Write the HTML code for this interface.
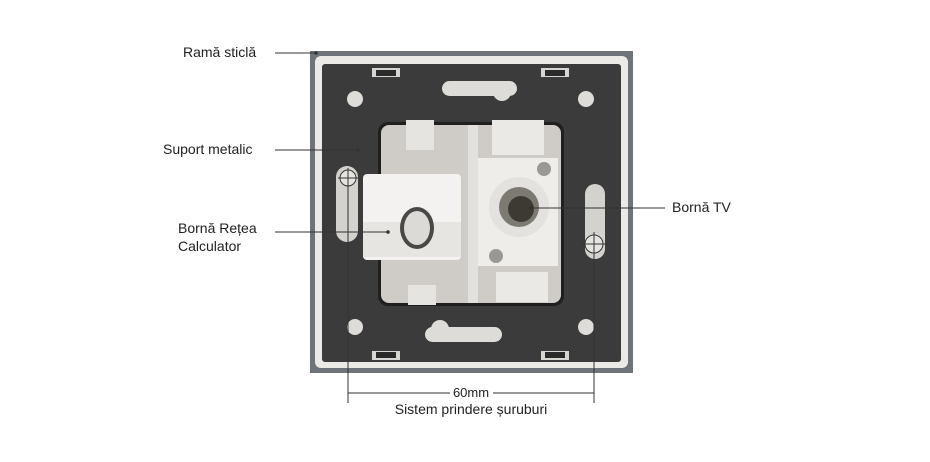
<!DOCTYPE html>
<html><head><meta charset="utf-8"><style>
html,body{margin:0;padding:0;background:#fff;}
svg{display:block;}
text{font-family:"Liberation Sans",sans-serif;fill:#222;}
</style></head><body>
<svg width="930" height="462" viewBox="0 0 930 462">
<!-- frame -->
<rect x="310" y="51" width="323" height="322" fill="#6f737a"/>
<rect x="315" y="56" width="313" height="312" rx="6" fill="#eceae6"/>
<rect x="322" y="64" width="299" height="298" rx="3" fill="#3b3b3c"/>
<!-- slots top/bottom -->
<rect x="372" y="68" width="28" height="9" fill="#d8d6d2"/><rect x="541" y="68" width="28" height="9" fill="#d8d6d2"/>
<rect x="372" y="351" width="28" height="9" fill="#d8d6d2"/><rect x="541" y="351" width="28" height="9" fill="#d8d6d2"/>
<rect x="376" y="70" width="20" height="6" fill="#2a2a2a"/><rect x="545" y="70" width="20" height="6" fill="#2a2a2a"/>
<rect x="376" y="352" width="20" height="6" fill="#2a2a2a"/><rect x="545" y="352" width="20" height="6" fill="#2a2a2a"/>
<!-- keyholes -->
<path d="M450 82 Q445 92 455 96 L495 96 Q505 104 510 96 Q515 84 500 82 Z" fill="#dedcd8"/>
<rect x="442" y="81" width="75" height="15" rx="7.5" fill="#dedcd8"/>
<rect x="425" y="327" width="77" height="15" rx="7.5" fill="#dedcd8"/>
<circle cx="440" cy="329" r="9" fill="#dedcd8"/>
<circle cx="502" cy="92" r="9" fill="#dedcd8"/>
<!-- holes -->
<circle cx="355" cy="99" r="8" fill="#dedcd8"/><circle cx="586" cy="99" r="8" fill="#dedcd8"/>
<circle cx="355" cy="327" r="8" fill="#dedcd8"/><circle cx="586" cy="327" r="8" fill="#dedcd8"/>
<!-- side slots -->
<rect x="336" y="166" width="22" height="76" rx="11" fill="#d4d2ce"/>
<rect x="585" y="184" width="20" height="75" rx="10" fill="#d4d2ce"/>
<!-- cavity -->
<rect x="378" y="122" width="186" height="184" rx="10" fill="#1f1f1f"/>
<rect x="381" y="125" width="180" height="178" rx="8" fill="#cfccc7"/>
<rect x="468" y="125" width="10" height="178" fill="#e3e1dd"/>
<rect x="478" y="158" width="80" height="108" fill="#efedea"/>
<rect x="492" y="120" width="52" height="35" fill="#ebe9e6"/>
<rect x="496" y="272" width="52" height="30" fill="#ebe9e6"/>
<rect x="406" y="120" width="28" height="30" fill="#e6e4e0"/>
<rect x="408" y="285" width="28" height="20" fill="#e6e4e0"/>
<!-- RJ45 module -->
<rect x="363" y="174" width="98" height="86" rx="4" fill="#f3f2f0"/>
<rect x="363" y="222" width="98" height="35" fill="#e6e5e2"/>
<ellipse cx="417" cy="228" rx="17" ry="21" fill="#4a4846"/>
<ellipse cx="417" cy="228" rx="13" ry="17" fill="#dcdad6"/>
<!-- coax -->
<circle cx="519" cy="207" r="30" fill="#e4e2de"/>
<circle cx="519" cy="207" r="20" fill="#7d7a72"/>
<circle cx="521" cy="209" r="13" fill="#3d3a34"/>
<circle cx="544" cy="169" r="7" fill="#9a9892"/>
<circle cx="496" cy="256" r="7" fill="#9a9892"/>
<!-- screw crosshairs -->
<g stroke="#333" stroke-width="1" fill="#e6e4e0">
<circle cx="348" cy="178" r="8"/><circle cx="594" cy="244" r="9"/>
</g>
<g stroke="#333" stroke-width="1">
<line x1="348" y1="168" x2="348" y2="403"/><line x1="338" y1="178" x2="358" y2="178"/>
<line x1="594" y1="232" x2="594" y2="403"/><line x1="582" y1="244" x2="606" y2="244"/>
<line x1="275" y1="53" x2="316" y2="53"/>
<line x1="275" y1="150" x2="358" y2="150"/>
<line x1="275" y1="232" x2="388" y2="232"/>
<line x1="527" y1="208" x2="665" y2="208"/>
<line x1="348" y1="393" x2="450" y2="393"/><line x1="493" y1="393" x2="594" y2="393"/>
</g>
<circle cx="316" cy="53" r="1.8" fill="#333"/><circle cx="358" cy="150" r="1.8" fill="#333"/><circle cx="388" cy="232" r="1.8" fill="#333"/><circle cx="531" cy="208" r="1.8" fill="#333"/>
<text x="183" y="57" font-size="14">Ramă sticlă</text>
<text x="163" y="154" font-size="14">Suport metalic</text>
<text x="178" y="233" font-size="14">Bornă Rețea</text>
<text x="178" y="251" font-size="14">Calculator</text>
<text x="672" y="212" font-size="14">Bornă TV</text>
<text x="471" y="397" font-size="13" text-anchor="middle">60mm</text>
<text x="471" y="414" font-size="14" text-anchor="middle">Sistem prindere șuruburi</text>
</svg>
</body></html>
